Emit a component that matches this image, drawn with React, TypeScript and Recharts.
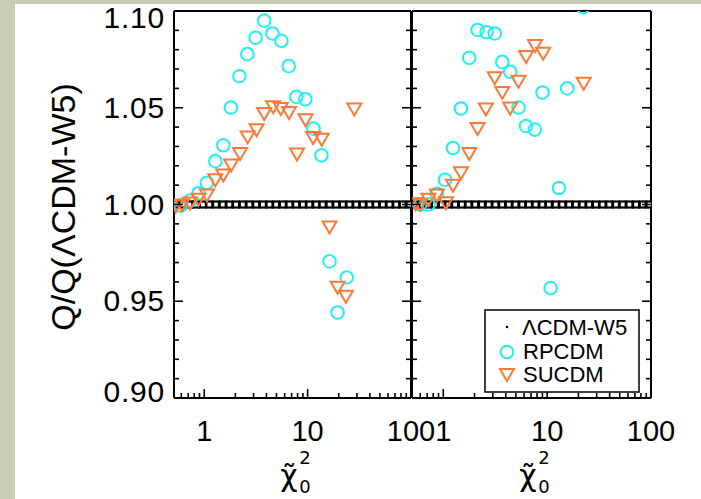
import { Scatter, ScatterChart, XAxis, YAxis } from "recharts";

// readings of the two panels (x = reduced chi^2, y = Q / Q(LCDM-W5))
const rpLeft = [
  [0.59, 0.9995], [0.73, 1.002], [0.88, 1.0058], [1.06, 1.0112], [1.28, 1.0224],
  [1.53, 1.0306], [1.81, 1.0501], [2.19, 1.0663], [2.61, 1.0777], [3.14, 1.0862],
  [3.8, 1.095], [4.57, 1.0884], [5.58, 1.0846], [6.57, 1.0715], [7.78, 1.0556],
  [9.5, 1.0544], [11.4, 1.0392], [13.6, 1.0254], [16.3, 0.9706], [19.5, 0.9442],
  [23.9, 0.9623],
];
const suLeft = [
  [0.53, 0.9995], [0.61, 1.0], [0.73, 1.001], [0.88, 1.003], [1.06, 1.0052],
  [1.28, 1.013], [1.53, 1.0155], [1.82, 1.0207], [2.22, 1.0266], [2.63, 1.0352],
  [3.21, 1.0389], [3.8, 1.0473], [4.64, 1.0508], [5.5, 1.0499], [6.6, 1.0478],
  [7.9, 1.0263], [9.56, 1.044], [11.3, 1.0349], [13.7, 1.034], [16.3, 0.9886],
  [19.5, 0.9575], [23.5, 0.9528], [28.3, 1.0496],
];
const rpRight = [
  [0.6, 1.0], [0.72, 1.0], [0.87, 1.0055], [1.04, 1.0128], [1.24, 1.0292],
  [1.48, 1.0496], [1.78, 1.0758], [2.14, 1.0902], [2.61, 1.089], [3.13, 1.0884],
  [3.7, 1.0737], [4.41, 1.0686], [5.3, 1.0501], [6.26, 1.0406], [7.6, 1.0387],
  [9.02, 1.0579], [10.8, 0.9568], [13.0, 1.0085], [15.6, 1.06], [22.2, 1.102],
];
const suRight = [
  [0.54, 1.0007], [0.6, 1.0004], [0.72, 1.003], [0.87, 1.0052], [1.06, 1.0012],
  [1.24, 1.0102], [1.48, 1.0167], [1.78, 1.0266], [2.14, 1.0395], [2.57, 1.0496],
  [3.13, 1.0657], [3.7, 1.0582], [4.41, 1.0501], [5.3, 1.0639], [6.27, 1.0767],
  [7.64, 1.0824], [9.16, 1.0784], [22.5, 1.0629],
];
// reference model: a row of small squares at 1.00
const lcdmX = [
  0.53, 0.62, 0.72, 0.83, 0.97, 1.12, 1.3, 1.51, 1.75, 2.03, 2.36, 2.74, 3.18,
  3.69, 4.28, 4.96, 5.76, 6.68, 7.75, 9.0, 10.4, 12.1, 14.0, 16.3, 18.9, 21.9,
  25.4, 29.5, 34.2, 39.7, 46.0, 53.4, 62.0, 71.9, 83.4, 96.8,
];

const xTicks = [0.6, 0.7, 0.8, 0.9, 1, 2, 3, 4, 5, 6, 7, 8, 9, 10, 20, 30, 40, 50, 60, 70, 80, 90, 100];
const xMajor = [1, 10, 100];
const yTicks = [0.9, 0.91, 0.92, 0.93, 0.94, 0.95, 0.96, 0.97, 0.98, 0.99, 1.0, 1.01, 1.02, 1.03, 1.04, 1.05, 1.06, 1.07, 1.08, 1.09, 1.1];
const yMajor = [0.9, 0.95, 1.0, 1.05, 1.1];

const FONT = "'Liberation Sans', Arial, Helvetica, sans-serif";
const CYAN = "#1ff0f4";
const ORANGE = "#ff7936";

const toPts = (rows: number[][]) => rows.map(([x, y]) => ({ x, y }));
const lcdm = lcdmX.map((x) => ({ x, y: 1.0 }));

const isYMajor = (v: number) => yMajor.some((m) => Math.abs(m - v) < 1e-6);

const Ring = (p: any) => (
  <circle cx={p.cx} cy={p.cy} r={6.3} fill="none" stroke={CYAN} strokeWidth={2} />
);
const Tri = (p: any) => (
  <polygon
    points={`${p.cx - 7},${p.cy - 5} ${p.cx + 7},${p.cy - 5} ${p.cx},${p.cy + 7}`}
    fill="none"
    stroke={ORANGE}
    strokeWidth={2}
  />
);
const Box = (p: any) => (
  <rect x={p.cx - 3} y={p.cy - 3} width={6} height={6} fill="#fff" stroke="#000" strokeWidth={2.2} />
);

function xTick(side: "top" | "bottom", labels: boolean) {
  return (p: any) => {
    const v = p.payload.value;
    const major = xMajor.includes(v);
    const len = major ? 9 : 5;
    const dir = side === "bottom" ? -1 : 1;
    return (
      <g>
        <line x1={p.x} x2={p.x} y1={p.y} y2={p.y + dir * len} stroke="#000" strokeWidth={1.6} />
        {labels && major && (
          <text x={p.x} y={p.y + 43} textAnchor="middle" fontSize={29} fontFamily={FONT} fill="#000">
            {String(v)}
          </text>
        )}
      </g>
    );
  };
}

function yTick(side: "left" | "right", labels: boolean) {
  return (p: any) => {
    const v = p.payload.value;
    const major = isYMajor(v);
    const len = major ? 9 : 5;
    const dir = side === "left" ? 1 : -1;
    let dy = 10;
    if (Math.abs(v - 1.1) < 1e-6) dy = 17;
    if (Math.abs(v - 0.9) < 1e-6) dy = 4;
    return (
      <g>
        <line x1={p.x} x2={p.x + dir * len} y1={p.y} y2={p.y} stroke="#000" strokeWidth={1.6} />
        {labels && major && (
          <text
            x={p.x - 9}
            y={p.y + dy}
            textAnchor="end"
            fontSize={30}
            letterSpacing={0.8}
            fontFamily={FONT}
            fill="#000"
          >
            {v.toFixed(2)}
          </text>
        )}
      </g>
    );
  };
}

function Panel({
  left,
  right,
  rp,
  su,
  xDomain,
  yLabels,
}: {
  left: number;
  right: number;
  rp: number[][];
  su: number[][];
  xDomain: [number, number];
  yLabels: boolean;
}) {
  const axisLine = { stroke: "#000", strokeWidth: 2 };
  return (
    <div style={{ position: "absolute", left: 0, top: 0 }}>
      <ScatterChart
        width={701}
        height={499}
        margin={{ top: 10, left: left - 1, right: 701 - right - 1, bottom: 100 }}
      >
        <XAxis
          dataKey="x"
          type="number"
          scale="log"
          domain={xDomain}
          allowDataOverflow
          ticks={xTicks}
          interval={0}
          height={1}
          tickSize={0}
          tickMargin={0}
          tickLine={false}
          axisLine={axisLine}
          tick={xTick("bottom", true)}
        />
        <XAxis
          xAxisId="top"
          orientation="top"
          type="number"
          scale="log"
          domain={xDomain}
          allowDataOverflow
          ticks={xTicks}
          interval={0}
          height={1}
          tickSize={0}
          tickMargin={0}
          tickLine={false}
          axisLine={axisLine}
          tick={xTick("top", false)}
        />
        <YAxis
          dataKey="y"
          type="number"
          domain={[0.9, 1.1]}
          allowDataOverflow
          ticks={yTicks}
          interval={0}
          width={1}
          tickSize={0}
          tickMargin={0}
          tickLine={false}
          axisLine={axisLine}
          tick={yTick("left", yLabels)}
        />
        <YAxis
          yAxisId="right"
          orientation="right"
          type="number"
          domain={[0.9, 1.1]}
          allowDataOverflow
          ticks={yTicks}
          interval={0}
          width={1}
          tickSize={0}
          tickMargin={0}
          tickLine={false}
          axisLine={axisLine}
          tick={yTick("right", false)}
        />
        <Scatter data={lcdm} shape={Box} isAnimationActive={false} />
        <Scatter data={toPts(rp)} shape={Ring} isAnimationActive={false} />
        <Scatter data={toPts(su)} shape={Tri} isAnimationActive={false} />
      </ScatterChart>
    </div>
  );
}

function ChiLabel({ cx }: { cx: number }) {
  return (
    <g fontFamily="'DejaVu Sans', sans-serif" fill="#000">
      <text x={cx - 5} y={486} textAnchor="middle" fontSize={30}>χ̃</text>
      <text x={cx + 11} y={464} textAnchor="middle" fontSize={18}>2</text>
      <text x={cx + 11} y={493} textAnchor="middle" fontSize={18}>0</text>
    </g>
  );
}

export default function App() {
  return (
    <div
      style={{
        position: "absolute",
        left: 0,
        top: 0,
        width: 701,
        height: 499,
        background: "#c9cdb7",
        overflow: "hidden",
      }}
    >
      <div style={{ position: "absolute", left: 15, top: 4, right: 0, bottom: 0, background: "#fff" }} />
      <Panel left={174} right={411} rp={rpLeft} su={suLeft} xDomain={[0.51, 100]} yLabels />
      <Panel left={412} right={651} rp={rpRight} su={suRight} xDomain={[0.5, 100]} yLabels={false} />
      <svg width={701} height={499} style={{ position: "absolute", left: 0, top: 0, pointerEvents: "none" }}>
        <text
          x={63}
          y={207}
          transform="rotate(-90, 63, 207)"
          textAnchor="middle"
          dominantBaseline="central"
          fontSize={34}
          fontFamily={FONT}
          fill="#000"
        >
          Q/Q(ΛCDM-W5)
        </text>
        <ChiLabel cx={294} />
        <ChiLabel cx={533} />
        <g fontFamily={FONT} fill="#000" fontSize={22}>
          <rect x={485} y={310} width={154} height={82} fill="#fff" stroke="#000" strokeWidth={1.5} />
          <circle cx={507} cy={327} r={1.3} fill="#000" />
          <text x={522} y={335}>ΛCDM-W5</text>
          <Ring cx={507} cy={352} />
          <text x={523} y={359}>RPCDM</text>
          <Tri cx={507} cy={374} />
          <text x={523} y={382}>SUCDM</text>
        </g>
      </svg>
    </div>
  );
}
